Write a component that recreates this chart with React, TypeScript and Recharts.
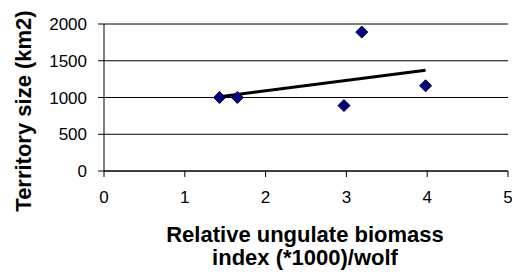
import React from 'react';
import {
  ScatterChart,
  Scatter,
  XAxis,
  YAxis,
  CartesianGrid,
  Label,
} from 'recharts';

// biomass index (*1000) per wolf vs territory size
const biomassIndex = [1.43, 1.65, 2.97, 3.19, 3.98];
const territorySize = [1000, 1000, 890, 1890, 1160];

// trend line end points
const trendX = [1.43, 3.98];
const trendY = [1010, 1370];

const xTicks = [0, 1, 2, 3, 4, 5];
const yTicks = [0, 500, 1000, 1500, 2000];

const points = biomassIndex.map((x, i) => ({ x, y: territorySize[i] }));
const trend = trendX.map((x, i) => ({ x, y: trendY[i] }));

const FONT = '"Liberation Sans", Arial, sans-serif';

const Diamond = (props: any) => {
  const { cx, cy } = props;
  const r = 6;
  return (
    <polygon
      points={`${cx},${cy - r} ${cx + r},${cy} ${cx},${cy + r} ${cx - r},${cy}`}
      fill="#000080"
      stroke="#000033"
      strokeWidth={1}
    />
  );
};

const NoDot = () => <g />;

const App: React.FC = () => {
  return (
    <div style={{ position: 'absolute', left: 0, top: 0, width: 512, height: 280, background: '#fff' }}>
      <ScatterChart
        width={512}
        height={280}
        margin={{ top: 24, right: 4, bottom: 0, left: 0 }}
        style={{ fontFamily: FONT }}
      >
        <CartesianGrid vertical={false} stroke="#000" strokeOpacity={1} />
        <XAxis
          type="number"
          dataKey="x"
          domain={[0, 5]}
          ticks={xTicks}
          interval={0}
          height={109}
          stroke="#000"
          tickSize={6}
          tickMargin={14}
          tick={{ fill: '#000', fontSize: 17, fontFamily: FONT }}
        >
          <Label
            content={() => (
              <text
                x={305}
                textAnchor="middle"
                fontFamily={FONT}
                fontWeight="bold"
                fontSize={22}
                fill="#000"
              >
                <tspan x={305} y={242}>Relative ungulate biomass</tspan>
                <tspan x={305} y={265}>index (*1000)/wolf</tspan>
              </text>
            )}
          />
        </XAxis>
        <YAxis
          type="number"
          dataKey="y"
          domain={[0, 2000]}
          ticks={yTicks}
          interval={0}
          width={104}
          stroke="#000"
          tickSize={6}
          tickMargin={11}
          tick={{ fill: '#000', fontSize: 17, fontFamily: FONT }}
        >
          <Label
            content={() => (
              <text
                x={23}
                y={111}
                transform="rotate(-90 23 111)"
                textAnchor="middle"
                dominantBaseline="central"
                fontFamily={FONT}
                fontWeight="bold"
                fontSize={22}
                fill="#000"
              >
                Territory size (km2)
              </text>
            )}
          />
        </YAxis>
        <Scatter
          data={trend}
          line={{ stroke: '#000', strokeWidth: 3 }}
          shape={NoDot}
          isAnimationActive={false}
        />
        <Scatter data={points} shape={Diamond} isAnimationActive={false} />
      </ScatterChart>
    </div>
  );
};

export default App;
